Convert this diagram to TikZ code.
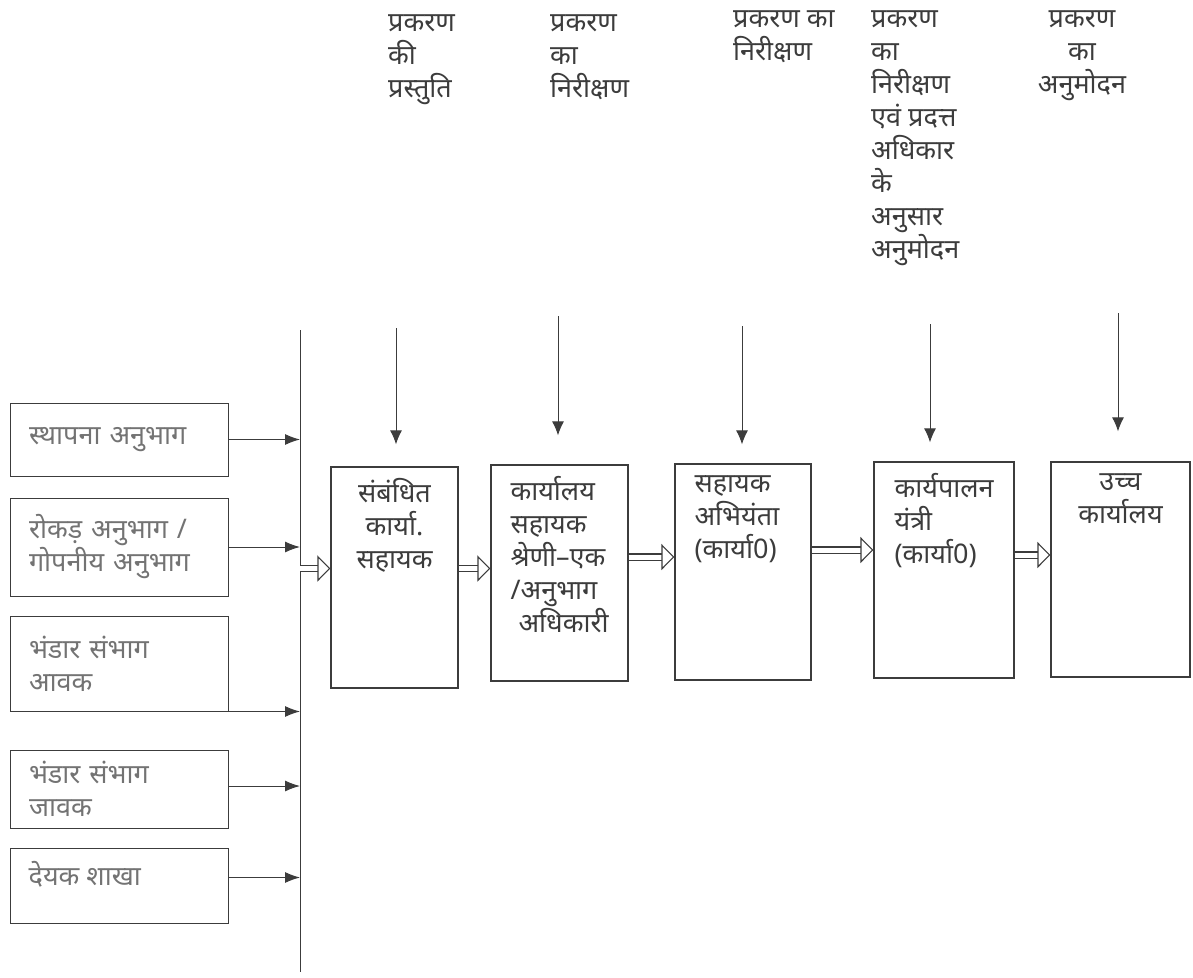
\documentclass[tikz,border=0pt]{standalone}
\usepackage{fontspec}
\setmainfont{Noto Sans}[Script=Devanagari]
\usetikzlibrary{positioning, arrows.meta}
\definecolor{encre}{RGB}{60,60,60}
\definecolor{pale}{RGB}{115,115,115}

\begin{document}
\begin{tikzpicture}[x=1pt,y=-1pt,
  font=\fontsize{27}{33}\selectfont,
  leftbox/.style={draw=encre, line width=1pt, inner sep=0pt, minimum width=218pt,
    text width=180pt, inner xsep=19pt, align=left, text=pale},
  mainbox/.style={draw=encre, line width=1.2pt, inner sep=0pt, minimum width=#1, minimum height=216pt},
  boxtext/.style={inner sep=0pt, text=encre},
  toptext/.style={inner sep=0pt, text=encre, align=left, anchor=north west},
  downarrow/.style={draw=encre, line width=1pt, -{Latex[length=14pt,width=12pt]}},
  feedarrow/.style={draw=encre, line width=1pt, -{Latex[length=15pt,width=11pt]}},
  dblarrow/.style={draw=encre, line width=1.1pt, double=white, double distance=5pt,
    -{Triangle[open, length=13pt, width=26pt]}}]
\useasboundingbox (0,0) rectangle (1193,977);

% la ligne verticale
\coordinate (bustop) at (300,330);
\coordinate (busbot) at (300,972);
\draw[encre, line width=1pt] (bustop) -- (busbot);

% les sections a gauche
\node[leftbox, minimum height=73pt] (b1) at (119,439.5) {स्थापना अनुभाग};
\node[leftbox, minimum height=98pt] (b2) at (119,547) {रोकड़ अनुभाग /\\गोपनीय अनुभाग};
\node[leftbox, minimum height=95pt] (b3) at (119,663.5) {भंडार संभाग\\आवक};
\node[leftbox, minimum height=78pt] (b4) at (119,789) {भंडार संभाग\\जावक};
\node[leftbox, minimum height=75pt,
  label={[boxtext, text=pale, anchor=north west, xshift=19pt, yshift=-14pt]north west:देयक शाखा}]
  (b5) at (119,885.5) {};

\draw[feedarrow] (b1.east) -- (b1.east -| bustop);
\draw[feedarrow] (b2.east) -- (b2.east -| bustop);
\draw[feedarrow] (b3.south east) -- (b3.south east -| bustop);
\draw[feedarrow] ([yshift=3pt]b4.east) -- ([yshift=3pt]b4.east -| bustop);
\draw[feedarrow] ([yshift=8pt]b5.east) -- ([yshift=8pt]b5.east -| bustop);

% la chaine des boites
\node[mainbox=127pt, minimum height=221pt,
  label={[boxtext, anchor=north, align=center, yshift=-12pt]north:संबंधित\\कार्या.\\सहायक}]
  (sa) at (394.5,577.5) {};
\node[mainbox=137pt,
  label={[boxtext, anchor=north west, align=left, xshift=20pt, yshift=-12pt]north west:कार्यालय\\सहायक\\श्रेणी–एक\\/अनुभाग\\\hspace*{8pt}अधिकारी}]
  (sb) at (559.5,573) {};
\node[mainbox=136pt,
  label={[boxtext, anchor=north west, align=left, xshift=20pt, yshift=-12pt]north west:सहायक\\अभियंता\\(कार्या0)}]
  (sc) at (743,572) {};
\node[mainbox=140pt,
  label={[boxtext, anchor=north west, align=left, xshift=21pt, yshift=-12pt]north west:कार्यपालन\\यंत्री\\(कार्या0)}]
  (sd) at (944,570) {};
\node[mainbox=139pt, minimum height=215pt,
  label={[boxtext, anchor=north, align=center, yshift=-12pt]north:उच्च\\कार्यालय}]
  (se) at (1120.5,569.5) {};

\draw[dblarrow] ([yshift=9pt]sa.west -| bustop) -- ([yshift=9pt]sa.west);
\draw[dblarrow] ([yshift=9pt]sa.east) -- ([yshift=9pt]sa.east -| sb.west);
\draw[dblarrow] ([yshift=16pt]sb.east) -- ([yshift=16pt]sb.east -| sc.west);
\draw[dblarrow] ([yshift=22pt]sc.east) -- ([yshift=22pt]sc.east -| sd.west);
\draw[dblarrow] ([yshift=15pt]sd.east) -- ([yshift=15pt]sd.east -| se.west);

% les textes en haut
\node[toptext] (l1) at (388,15) {प्रकरण\\की\\प्रस्तुति};
\node[toptext] (l2) at (550,15) {प्रकरण\\का\\निरीक्षण};
\node[toptext] (l3) at (733,11) {प्रकरण का\\निरीक्षण};
\node[toptext] (l4) at (871,11) {प्रकरण\\का\\निरीक्षण\\एवं प्रदत्त\\अधिकार\\के\\अनुसार\\अनुमोदन};
\node[toptext, anchor=north, align=center] (l5) at (1082,11) {प्रकरण\\का\\अनुमोदन};

% les fleches vers le bas
\coordinate (t1) at (396,328);
\coordinate (t2) at (558,316);
\coordinate (t3) at (742,326);
\coordinate (t4) at (930,324);
\coordinate (t5) at (1118,313);
\draw[downarrow, shorten >=22pt] (t1) -- (t1 |- sa.north);
\draw[downarrow, shorten >=29pt] (t2) -- (t2 |- sb.north);
\draw[downarrow, shorten >=19pt] (t3) -- (t3 |- sc.north);
\draw[downarrow, shorten >=19pt] (t4) -- (t4 |- sd.north);
\draw[downarrow, shorten >=30pt] (t5) -- (t5 |- se.north);

\end{tikzpicture}
\end{document}
